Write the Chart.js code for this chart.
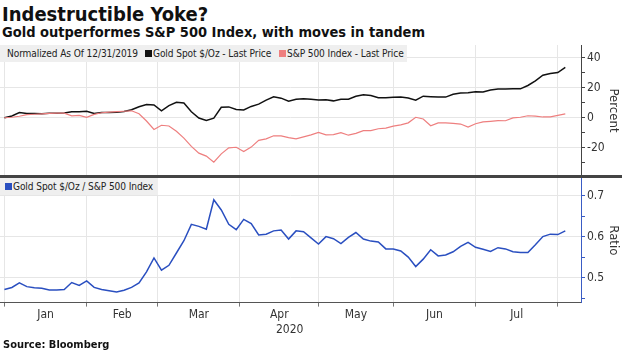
<!DOCTYPE html>
<html>
<head>
<meta charset="utf-8">
<script src="https://cdn.jsdelivr.net/npm/chart.js@4.4.1/dist/chart.umd.min.js"></script>
<style>
  body { margin:0; background:#fff; width:631px; height:350px; position:relative; overflow:hidden; font-family:"DejaVu Sans", Verdana, sans-serif; color:#111; }
  .abs { position:absolute; white-space:nowrap; }
  #title { left:2px; top:2px; font-family:"DejaVu Sans Condensed","DejaVu Sans",sans-serif; font-size:20px; font-weight:bold; }
  #subtitle { left:2px; top:24px; font-family:"DejaVu Sans Condensed","DejaVu Sans",sans-serif; font-size:14.5px; font-weight:bold; }
  #topWrap { left:0; top:45px; width:631px; height:131px; }
  #botWrap { left:0; top:178px; width:631px; height:145px; }
  .legend { background:#efefef; height:17px; }
  .lg { position:absolute; top:0; line-height:17px; font-family:"DejaVu Sans Condensed",sans-serif; font-size:11px; letter-spacing:-0.1px; color:#222; transform:scaleX(0.915); transform-origin:left center; }
  .sw { position:absolute; top:5px; width:7px; height:7px; }
  #sep { left:0; top:175px; width:622px; height:3px; background:#444; }
  #year { left:276px; top:322px; font-family:"DejaVu Sans Condensed","DejaVu Sans",sans-serif; font-size:12px; color:#333; }
  #source { left:3px; top:338px; font-family:"DejaVu Sans Condensed","DejaVu Sans",sans-serif; font-size:11px; font-weight:bold; }
</style>
</head>
<body>
<div id="title" class="abs">Indestructible Yoke?</div>
<div id="subtitle" class="abs">Gold outperformes S&amp;P 500 Index, with moves in tandem</div>

<div id="topWrap" class="abs"><canvas id="topChart"></canvas></div>
<div id="botWrap" class="abs"><canvas id="botChart"></canvas></div>
<div id="sep" class="abs"></div>

<div class="abs legend" style="left:0;top:45px;width:407px;">
  <span class="lg" style="left:7px;">Normalized As Of 12/31/2019</span>
  <span class="sw" style="left:145px;background:#111;"></span>
  <span class="lg" style="left:153px;">Gold Spot $/Oz - Last Price</span>
  <span class="sw" style="left:279px;background:#ee7f7f;"></span>
  <span class="lg" style="left:287px;">S&amp;P 500 Index - Last Price</span>
</div>
<div class="abs legend" style="left:0;top:178px;width:158px;">
  <span class="sw" style="left:5px;background:#2a4fc0;"></span>
  <span class="lg" style="left:13px;">Gold Spot $/Oz / S&amp;P 500 Index</span>
</div>

<div id="year" class="abs">2020</div>
<div id="source" class="abs">Source: Bloomberg</div>

<script>
// trading-day index since 12/31/2019 (every second session)
const dayIdx = [0,2,4,6,8,10,12,14,16,18,20,22,24,26,28,30,32,34,36,38,
  40,42,44,46,48,50,52,54,56,58,60,62,64,66,68,70,72,74,76,78,
  80,82,84,86,88,90,92,94,96,98,100,102,104,106,108,110,112,114,116,118,
  120,122,124,126,128,130,132,134,136,138,140,142,144,146,148,150];

// percent change vs 12/31/2019
const goldPct = [0,1.2,3.4,2.8,2.8,2.7,3.0,3.0,3.2,3.9,3.9,4.3,2.8,3.4,3.5,3.6,4.1,5.3,7.3,8.8,
  8.5,4.6,8.0,10.2,9.8,4.0,-0.2,-1.8,-0.3,6.9,7.2,5.5,5.2,7.5,9.0,11.7,13.9,13.0,11.0,12.3,
  12.6,12.2,11.8,12.0,11.2,12.3,12.3,14.3,15.3,14.7,13.3,13.2,13.6,13.8,13.1,11.6,14.3,14.0,13.7,13.7,
  15.6,16.4,16.6,17.2,17.1,18.4,19.1,19.1,19.3,19.2,21.4,24.5,28.2,29.3,30.0,33.5];

const spxPct = [0,0.3,1.0,2.0,2.3,2.6,2.9,3.0,3.0,1.2,1.6,0.3,2.2,3.3,3.7,4.0,4.3,4.6,2.6,-2.2,
  -7.8,-5.0,-5.5,-9.0,-13.5,-19.0,-23.5,-25.5,-29.5,-24.0,-20.0,-19.6,-22.5,-19.5,-15.0,-14.0,-12.0,-12.0,-13.2,-14.0,
  -12.7,-11.4,-9.8,-11.4,-11.2,-9.9,-11.6,-10.4,-8.6,-8.6,-7.3,-6.9,-5.6,-4.7,-3.4,0.3,-0.8,-5.3,-3.4,-3.4,
  -3.8,-4.2,-6.2,-4.0,-2.8,-2.4,-1.9,-2.0,-0.1,0.3,1.3,1.0,0.5,0.6,1.6,2.6];

// gold / S&P 500 ratio
const ratio = [0.471,0.476,0.487,0.478,0.475,0.474,0.470,0.470,0.471,0.488,0.481,0.492,0.476,0.471,0.468,0.465,0.469,0.476,0.487,0.514,
  0.548,0.518,0.530,0.560,0.590,0.630,0.625,0.618,0.690,0.665,0.630,0.617,0.642,0.632,0.604,0.606,0.614,0.616,0.594,0.614,
  0.612,0.597,0.582,0.600,0.595,0.583,0.598,0.610,0.594,0.589,0.587,0.570,0.570,0.565,0.550,0.527,0.545,0.568,0.553,0.555,
  0.563,0.576,0.586,0.574,0.569,0.564,0.573,0.570,0.563,0.561,0.561,0.580,0.600,0.606,0.605,0.614];

// first session of each month (Jan..Aug) and month names
const monthStart = [0,22,41,63,84,104,126,148];
const monthNames = ['Jan','Feb','Mar','Apr','May','Jun','Jul'];

const xMin = -1.18, xMax = 154.2;
const gridCol = '#e6e6e6';
const tickFont = { family: '"DejaVu Sans Condensed","DejaVu Sans",sans-serif', size: 12 };

const mids = monthNames.map((m, i) => (monthStart[i] + monthStart[i + 1]) / 2);
const isBoundary = v => monthStart.includes(v);

function pts(vals) { return vals.map((v, i) => ({ x: dayIdx[i], y: v })); }

function noPad(s) { s.paddingTop = 0; s.paddingBottom = 0; s.paddingLeft = 0; s.paddingRight = 0; }

function xAxis(showLabels) {
  return {
    type: 'linear', min: xMin, max: xMax,
    afterBuildTicks: s => { s.ticks = monthStart.concat(showLabels ? mids : []).sort((a, b) => a - b).map(v => ({ value: v })); },
    afterFit: s => { noPad(s); if (!showLabels) s.height = 0; },
    border: { display: showLabels, color: '#555' },
    grid: {
      color: c => (c.tick && isBoundary(c.tick.value)) ? gridCol : 'transparent',
      tickColor: c => (c.tick && isBoundary(c.tick.value)) ? '#777' : 'transparent',
      drawTicks: showLabels, tickLength: 4
    },
    ticks: {
      display: showLabels, autoSkip: false, maxRotation: 0, padding: 1,
      font: tickFont, color: '#333',
      callback: v => { const i = mids.indexOf(v); return i >= 0 ? monthNames[i] : ''; }
    }
  };
}

function yAxis(min, max, step, major, fmt, title, axisCol) {
  return {
    position: 'right', min, max,
    afterFit: s => { noPad(s); s.width = 50; },
    border: { color: axisCol, width: 1 },
    grid: {
      color: c => (c.tick && major(c.tick.value)) ? gridCol : 'transparent',
      tickColor: axisCol, tickLength: 4
    },
    ticks: {
      stepSize: step, includeBounds: false, autoSkip: false, padding: 2,
      font: { family: tickFont.family, size: 12 }, color: '#333',
      callback: v => major(v) ? fmt(v) : ''
    },
    title: { display: true, text: title, color: '#333', font: { family: tickFont.family, size: 13 }, padding: { top: 10, bottom: 0 } }
  };
}

const common = {
  responsive: true, maintainAspectRatio: false, animation: false,
  layout: { padding: 0 },
  plugins: { legend: { display: false }, tooltip: { enabled: false } },
  elements: { point: { radius: 0 }, line: { tension: 0 } }
};

new Chart(document.getElementById('topChart'), {
  type: 'line',
  data: {
    datasets: [
      { label: 'S&P 500 Index - Last Price', data: pts(spxPct), borderColor: '#ee7f7f', borderWidth: 1.2 },
      { label: 'Gold Spot $/Oz - Last Price', data: pts(goldPct), borderColor: '#111', borderWidth: 1.5 }
    ]
  },
  options: Object.assign({}, common, {
    scales: {
      x: xAxis(false),
      y: yAxis(-38.7, 48.3, 10, v => Math.round(v) % 20 === 0, v => String(Math.round(v)), 'Percent', '#444')
    }
  })
});

new Chart(document.getElementById('botChart'), {
  type: 'line',
  data: {
    datasets: [
      { label: 'Gold Spot $/Oz / S&P 500 Index', data: pts(ratio), borderColor: '#2a4fc0', borderWidth: 1.5 }
    ]
  },
  options: Object.assign({}, common, {
    scales: {
      x: xAxis(true),
      y: yAxis(0.439, 0.743, 0.05, v => Math.round(v * 100) % 10 === 0, v => v.toFixed(1), 'Ratio', '#3a5cc4')
    }
  })
});
</script>
</body>
</html>
